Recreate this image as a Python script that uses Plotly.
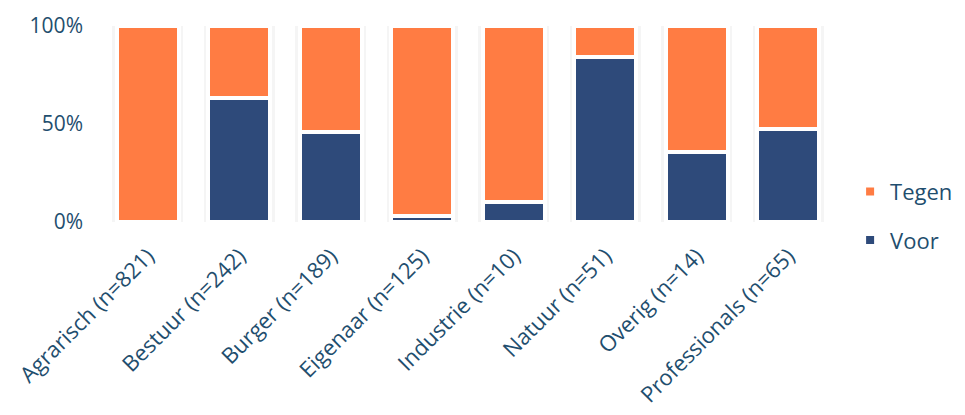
import plotly.graph_objects as go

categories = ["Agrarisch (n=821)", "Bestuur (n=242)", "Burger (n=189)", "Eigenaar (n=125)",
              "Industrie (n=10)", "Natuur (n=51)", "Overig (n=14)", "Professionals (n=65)"]
voor = [0, 63.5, 46, 3.2, 10, 84.3, 35.7, 47.7]
tegen = [100 - v for v in voor]
totals = [a + b for a, b in zip(voor, tegen)]
y_ticks = [0, 50, 100]
y_tick_labels = ["0%", "50%", "100%"]

text_color = "#1F4E6E"
font_family = "Open Sans, Liberation Sans, sans-serif"

fig = go.Figure()
# soft shadow layers behind the bars (base axes)
for w, op in [(0.78, 0.04), (0.75, 0.06), (0.72, 0.09)]:
    fig.add_trace(go.Bar(x=categories, y=totals, width=w, marker_color="rgba(0,0,0,%.2f)" % op,
                         marker_line_width=0, showlegend=False, hoverinfo="skip",
                         xaxis="x", yaxis="y"))
fig.add_trace(go.Bar(x=categories, y=voor, name="Voor", marker_color="#2E4A7A", width=0.68,
                     marker_line=dict(color="white", width=4), legendgroup="v", legendrank=2,
                     xaxis="x", yaxis="y2"))
fig.add_trace(go.Bar(x=categories, y=tegen, name="Tegen", marker_color="#FF7C43", width=0.68,
                     marker_line=dict(color="white", width=4), legendgroup="t", legendrank=1,
                     xaxis="x", yaxis="y2"))

fig.update_layout(
    barmode="stack",
    width=957, height=407,
    margin=dict(l=94, r=131, t=18, b=193, autoexpand=False),
    plot_bgcolor="white", paper_bgcolor="white",
    font=dict(family=font_family, color=text_color, size=20),
    legend=dict(x=1.022, y=0.03, xanchor="left", yanchor="middle",
                traceorder="grouped", tracegroupgap=17, itemwidth=30,
                font=dict(size=22, color=text_color)),
    xaxis=dict(tickangle=-45, showgrid=False, showline=False, ticks="", automargin=False,
               ticklabelstandoff=16, tickfont=dict(size=22, color=text_color)),
    yaxis=dict(range=[0, 100], tickvals=y_ticks, ticktext=y_tick_labels, automargin=False,
               showgrid=False, zeroline=False, showline=False, ticks="",
               ticklabelstandoff=18, tickfont=dict(size=21, color=text_color)),
    yaxis2=dict(range=[0, 100], overlaying="y", showticklabels=False, showgrid=False,
                zeroline=False, showline=False, ticks=""),
)

fig.write_html("out.html")
